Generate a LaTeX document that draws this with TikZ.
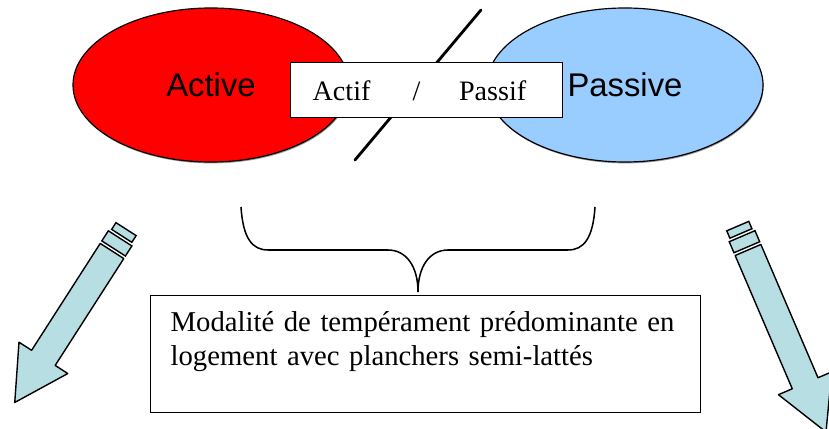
\documentclass[tikz,border=0pt]{standalone}
\usepackage{fontspec}
\setmainfont{Liberation Serif}
\newfontfamily\arialfont{Liberation Sans}
\usepackage{tikz}
\usetikzlibrary{shapes.geometric, shadows}
\definecolor{modered}{RGB}{255, 0, 0}
\definecolor{modeblue}{RGB}{153, 204, 255}
\definecolor{arrowcyan}{RGB}{183, 222, 226}
\tikzset{
  modeoval/.style={ellipse, draw, line width=1pt, inner sep=0pt, minimum width=8.28cm, minimum height=4.62cm, font=\arialfont\fontsize{28}{30}\selectfont, drop shadow={shadow xshift=0.6pt, shadow yshift=-1.2pt, opacity=0.8}},
  labelbox/.style={draw, fill=white, line width=1.1pt, inner ysep=0pt, align=left}
}

\begin{document}
\begin{tikzpicture}[x=0.03cm, y=-0.03cm]
\newcommand{\shaftw}{14}
\newcommand{\headw}{29}
\newcommand{\headl}{53}
\useasboundingbox (0, 0) rectangle (829, 429);
\node[modeoval, fill=modered] (active) at (211, 85) {Active};
\node[modeoval, fill=modeblue] (passive) at (625, 85) {Passive};
\draw[line width=2.4pt, line cap=round] (481, 10) -- (355, 160);
\node[labelbox, anchor=north west, text width=6.84cm, inner xsep=0.66cm, text height=1.14cm, text depth=0.51cm, font=\fontsize{24}{26}\selectfont] (toggle) at (290, 62) {Actif\hspace{36pt}/\hspace{33pt}Passif};
\draw[line width=1.3pt] (241, 207) .. controls (243, 238) and (252, 250) .. (268, 250) -- (388, 250) .. controls (406, 250) and (418, 266) .. (418, 292) .. controls (418, 266) and (430, 250) .. (448, 250) -- (568, 250) .. controls (584, 250) and (593, 238) .. (595, 207);
\node[labelbox, anchor=north west, text width=15.3cm, inner xsep=0.6cm, text height=1.08cm, text depth=2.43cm, font=\fontsize{24.5}{29}\selectfont] (mode) at (150, 295) {Modalité de tempérament prédominante en\\logement avec planchers semi-lattés};
\foreach \x / \y / \a / \l in {112 / 251 / -122.7 / 127, 748 / 250 / -66.8 / 145} {
  \begin{scope}[shift={(\x, \y)}, rotate=\a]
    \draw[fill=arrowcyan, line width=1.2pt, line join=round] (0, -\shaftw) -- (\l, -\shaftw) -- (\l, -\headw) -- (\l+\headl, 0) -- (\l, \headw) -- (\l, \shaftw) -- (0, \shaftw) -- cycle;
    \draw[fill=arrowcyan, line width=1.2pt] (-15, -\shaftw) rectangle (-3, \shaftw);
    \draw[fill=arrowcyan, line width=1.2pt] (-26, -12) rectangle (-18, 12);
  \end{scope}
}
\end{tikzpicture}
\end{document}
